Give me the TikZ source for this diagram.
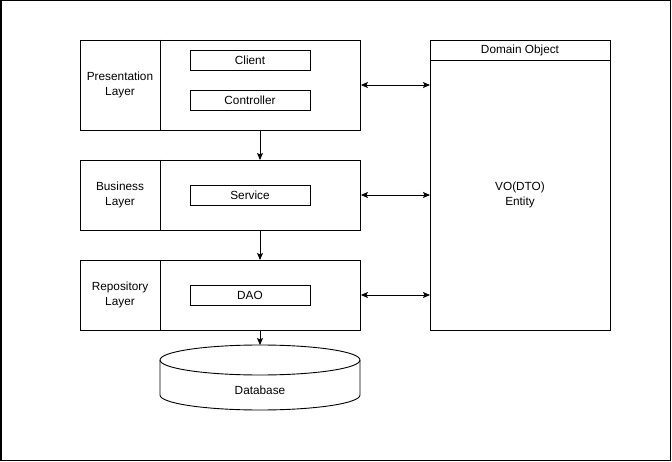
\documentclass[tikz,border=0pt]{standalone}
\usepackage{fontspec}
\setmainfont{Liberation Sans}
\usetikzlibrary{arrows.meta,shapes.geometric}
\begin{document}
\begin{tikzpicture}[x=1pt,y=-1pt,
  every node/.style={font=\fontsize{11.8}{15.5}\selectfont, align=center, inner sep=0pt},
  box/.style={draw, line width=0.9pt, minimum width=#1, anchor=north west},
  arr/.style={line width=0.9pt, -{Stealth[length=7pt,width=6pt,inset=1.5pt]}},
  darr/.style={line width=0.9pt, {Stealth[length=7pt,width=6pt,inset=1.5pt]}-{Stealth[length=7pt,width=6pt,inset=1.5pt]}}]
\useasboundingbox (0,0) rectangle (672,462);
\draw[line width=1.5pt] (0.75,0.75) rectangle (670.5,460.5);
% layers
\node[draw, line width=0.9pt, minimum width=280pt, minimum height=90pt, anchor=north west] (pres) at (80,40) {};
\draw[line width=0.9pt] (160,40) -- (160,130);
\node (presl) at (120,85) {Presentation\\Layer};
\node[draw, line width=0.9pt, minimum width=120pt, minimum height=20pt] (client) at (250,60) {Client};
\node[draw, line width=0.9pt, minimum width=120pt, minimum height=20pt] (ctrl) at (250,100) {Controller};

\node[draw, line width=0.9pt, minimum width=280pt, minimum height=70pt, anchor=north west] (bus) at (80,160) {};
\draw[line width=0.9pt] (160,160) -- (160,230);
\node (busl) at (120,195) {Business\\Layer};
\node[draw, line width=0.9pt, minimum width=120pt, minimum height=20pt] (svc) at (250,195) {Service};

\node[draw, line width=0.9pt, minimum width=280pt, minimum height=70pt, anchor=north west] (repo) at (80,260) {};
\draw[line width=0.9pt] (160,260) -- (160,330);
\node (repol) at (120,295) {Repository\\Layer};
\node[draw, line width=0.9pt, minimum width=120pt, minimum height=20pt] (dao) at (250,295) {DAO};

% database
\coordinate (dbtop) at (260,345);
\draw[line width=0.9pt] (160,360) -- (160,395) arc[start angle=180,end angle=360,x radius=100,y radius=-15] -- (360,360);
\draw[line width=0.9pt] (260,360) ellipse[x radius=100, y radius=15];
\node (db) at (260,390) {Database};

% domain object
\node[draw, line width=0.9pt, minimum width=180pt, minimum height=290pt, anchor=north west] (dom) at (430,40) {};
\draw[line width=0.9pt] (430,60) -- (610,60);
\node (domt) at (520,50) {Domain Object};
\node (vo) at (520,195) {VO(DTO)\\Entity};

% arrows
\draw[arr] (pres.south -| 260,0) -- (bus.north -| 260,0);
\draw[arr] (bus.south -| 260,0) -- (repo.north -| 260,0);
\draw[arr] (repo.south -| 260,0) -- (dbtop);
\draw[darr] (pres.east |- 0,85) -- (dom.west |- 0,85);
\draw[darr] (bus.east |- 0,195) -- (dom.west |- 0,195);
\draw[darr] (repo.east |- 0,295) -- (dom.west |- 0,295);
\end{tikzpicture}
\end{document}
